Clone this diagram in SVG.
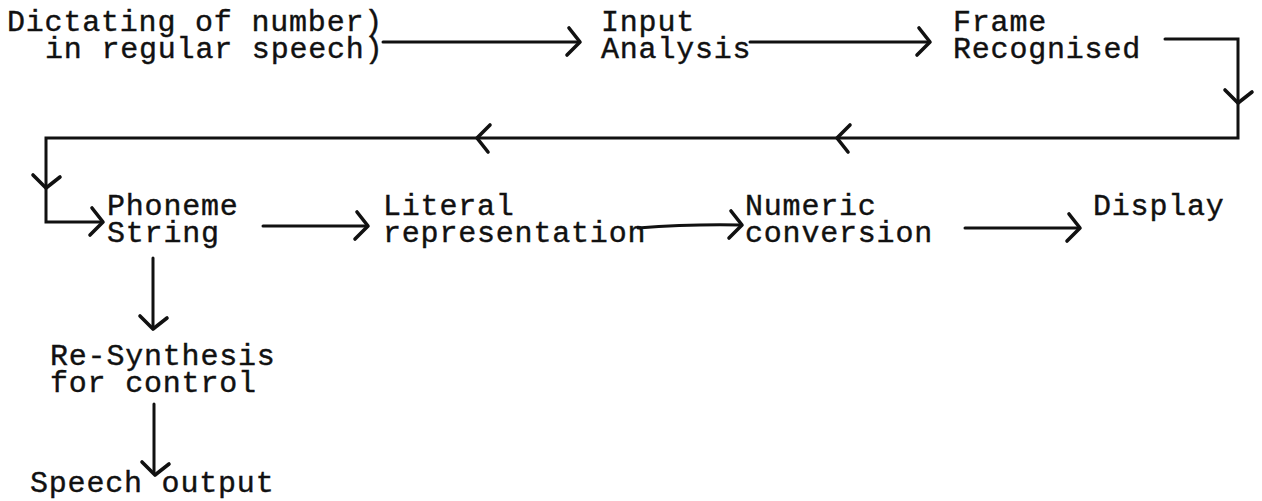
<svg xmlns="http://www.w3.org/2000/svg" xmlns:xlink="http://www.w3.org/1999/xlink" width="1262" height="501" viewBox="0 0 1262 501">
  <style>
    .t { font-family: "Liberation Mono", "DejaVu Sans Mono", monospace; font-size: 30px; letter-spacing: 0.8px; fill: #111; stroke: #111; stroke-width: 0.4px; }
    .ln { fill: none; stroke: #111; stroke-width: 3; stroke-linecap: round; stroke-linejoin: miter; }
    .hd { fill: none; stroke: #111; stroke-width: 3.6; stroke-linecap: round; stroke-linejoin: round; }
  </style>
  <defs>
    <!-- open chevron head pointing right, tip at the origin -->
    <path id="chev" class="hd" d="M-11,-14 L0,0 L-13,13"/>
  </defs>
  <rect x="0" y="0" width="1262" height="501" fill="#fff"/>

  <g id="dictation">
    <text class="t" x="7" y="31">Dictating of number)</text>
    <text class="t" x="45" y="57.5">in regular speech)</text>
  </g>
  <g id="input-analysis">
    <text class="t" x="601" y="31">Input</text>
    <text class="t" x="601" y="57.5">Analysis</text>
  </g>
  <g id="frame-recognised">
    <text class="t" x="953" y="31">Frame</text>
    <text class="t" x="953" y="57.5">Recognised</text>
  </g>
  <g id="phoneme-string">
    <text class="t" x="107" y="215">Phoneme</text>
    <text class="t" x="107" y="241.5">String</text>
  </g>
  <g id="literal-representation">
    <text class="t" x="383" y="215">Literal</text>
    <text class="t" x="383" y="241.5">representation</text>
  </g>
  <g id="numeric-conversion">
    <text class="t" x="745" y="215">Numeric</text>
    <text class="t" x="745" y="241.5">conversion</text>
  </g>
  <g id="display">
    <text class="t" x="1093" y="215">Display</text>
  </g>
  <g id="re-synthesis">
    <text class="t" x="50" y="365">Re-Synthesis</text>
    <text class="t" x="50" y="391.5">for control</text>
  </g>
  <g id="speech-output">
    <text class="t" x="30" y="492">Speech output</text>
  </g>

  <g id="connectors">
    <!-- dictation to input analysis -->
    <path class="ln" d="M383,42 H578"/>
    <use xlink:href="#chev" transform="translate(580,42)"/>
    <!-- input analysis to frame recognised -->
    <path class="ln" d="M750,42 H928"/>
    <use xlink:href="#chev" transform="translate(930,42)"/>
    <!-- return loop from frame recognised back to phoneme string -->
    <path class="ln" d="M1165,39 H1238 V138 H46 V222 H101"/>
    <use xlink:href="#chev" transform="translate(1238,103) rotate(90)"/>
    <use xlink:href="#chev" transform="translate(837,138) rotate(180)"/>
    <use xlink:href="#chev" transform="translate(477,138) rotate(180)"/>
    <use xlink:href="#chev" transform="translate(46,188) rotate(90)"/>
    <use xlink:href="#chev" transform="translate(103,222)"/>
    <!-- phoneme string to literal representation -->
    <path class="ln" d="M263,226 H366"/>
    <use xlink:href="#chev" transform="translate(368,226)"/>
    <!-- literal representation to numeric conversion -->
    <path class="ln" d="M638,228 Q690,224 740,225"/>
    <use xlink:href="#chev" transform="translate(742,225)"/>
    <!-- numeric conversion to display -->
    <path class="ln" d="M965,228 H1078"/>
    <use xlink:href="#chev" transform="translate(1080,228)"/>
    <!-- phoneme string down to re-synthesis -->
    <path class="ln" d="M153,258 V327"/>
    <use xlink:href="#chev" transform="translate(153,329) rotate(90)"/>
    <!-- re-synthesis down to speech output -->
    <path class="ln" d="M154,404 V473"/>
    <use xlink:href="#chev" transform="translate(155,475) rotate(90)"/>
  </g>
</svg>
